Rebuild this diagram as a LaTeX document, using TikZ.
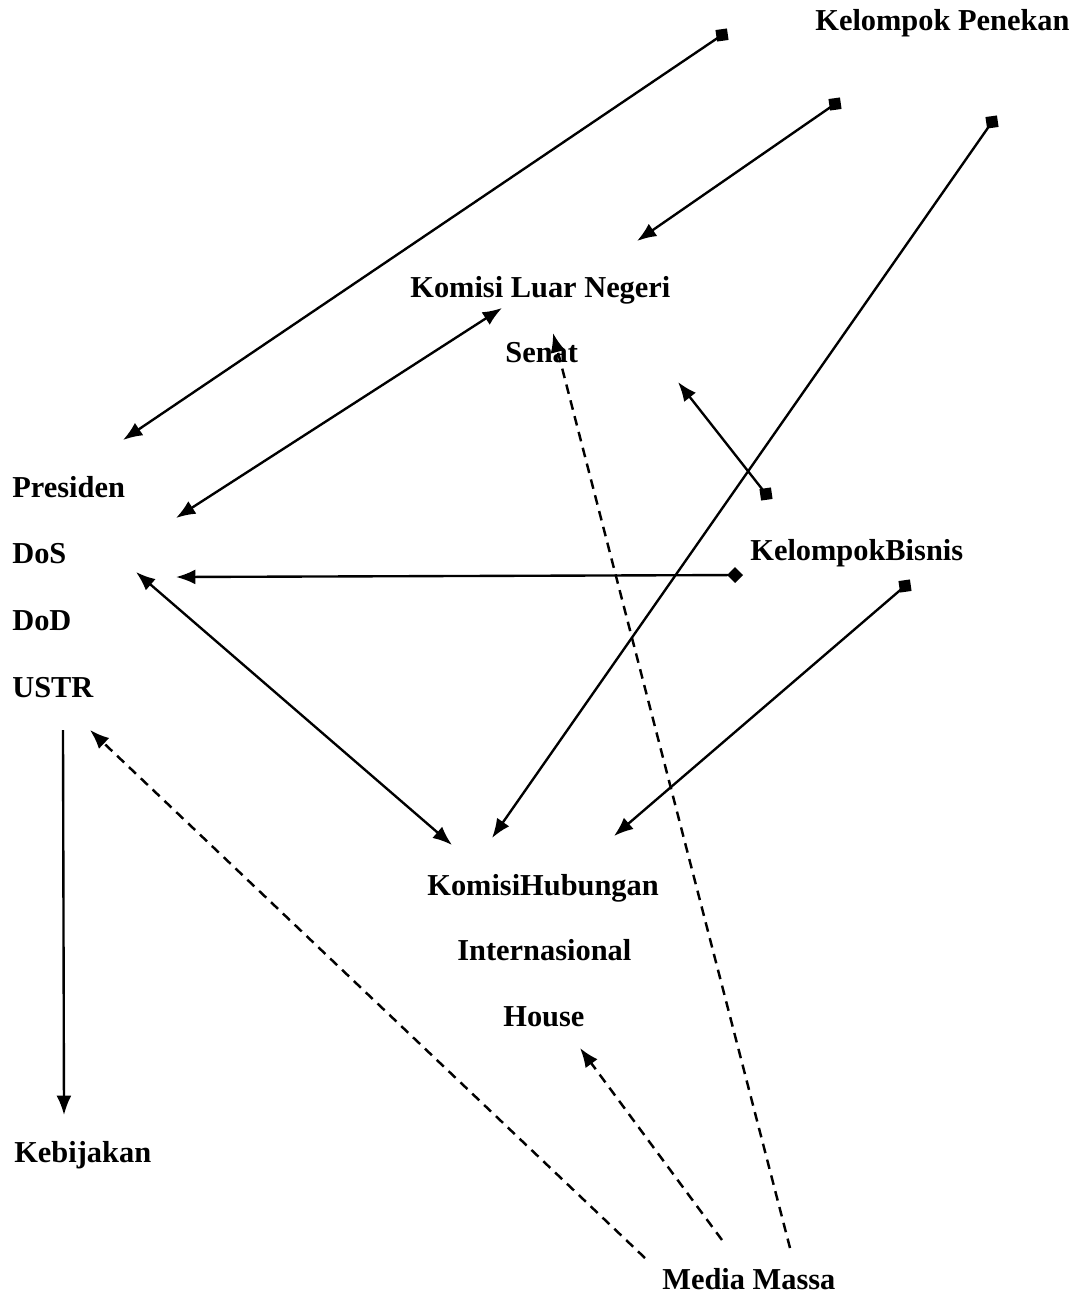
\documentclass[tikz,border=0pt]{standalone}
\usepackage{fontspec}
\setmainfont{Liberation Serif}
\usetikzlibrary{arrows.meta}
\begin{document}
\begin{tikzpicture}[x=0.02cm,y=-0.02cm,
  lbl/.style={anchor=base west,inner sep=0pt,font=\fontsize{17.3pt}{20pt}\selectfont\bfseries},
  con/.style={line width=1.35pt},
  dcon/.style={line width=1.4pt,dash pattern=on 5.5pt off 3.8pt},
  sqnode/.style={fill=black,draw=none,inner sep=0pt,minimum size=6.6pt,rotate=8},
  tip/.tip={Latex[length=11pt,width=8.5pt]},
  dm/.tip={Turned Square[length=9pt,width=9pt]}]
\useasboundingbox[fill=white] (0,0) rectangle (1079,1298);
% labels
\node[lbl] (kp) at (815,31) {Kelompok Penekan};
\node[lbl] (kln) at (410,297) {Komisi Luar Negeri};
\node[lbl] (senat) at (505,362) {Senat};
\node[lbl] (pres) at (12,497) {Presiden};
\node[lbl] (dos) at (12,563) {DoS};
\node[lbl] (dod) at (12,630) {DoD};
\node[lbl] (ustr) at (12,697) {USTR};
\node[lbl] (kb) at (750,560) {KelompokBisnis};
\node[lbl] (khi) at (427,895) {KomisiHubungan};
\node[lbl] (intl) at (457,960) {Internasional};
\node[lbl] (house) at (503,1026) {House};
\node[lbl] (kebij) at (14,1162) {Kebijakan};
\node[lbl] (mm) at (662,1289) {Media Massa};
% endpoints
\coordinate (a1) at (722,35);   \coordinate (b1) at (123,440);
\coordinate (a2) at (835,104);  \coordinate (b2) at (637,241);
\coordinate (a3) at (992,122);  \coordinate (b3) at (492,838);
\coordinate (a4) at (176,518);  \coordinate (b4) at (502,308);
\coordinate (a5) at (766,494);  \coordinate (b5) at (678,382);
\coordinate (a6) at (743,575);  \coordinate (b6) at (176,577);
\coordinate (a7) at (136,572);  \coordinate (b7) at (452,845);
\coordinate (a8) at (905,586);  \coordinate (b8) at (614,836);
\coordinate (a9) at (63,730);   \coordinate (b9) at (64,1115);
\coordinate (a10) at (645,1258); \coordinate (b10) at (90,730);
\coordinate (a11) at (722,1240); \coordinate (b11) at (580,1048);
\coordinate (a12) at (790,1248); \coordinate (b12) at (553,333);
% connectors
\draw[con,-{tip}] (a1) -- (b1);
\draw[con,-{tip}] (a2) -- (b2);
\draw[con,-{tip}] (a3) -- (b3);
\draw[con,{tip}-{tip}] (a4) -- (b4);
\draw[con,-{tip}] (a5) -- (b5);
\draw[con,{dm}-{tip}] (a6) -- (b6);
\draw[con,{tip}-{tip}] (a7) -- (b7);
\draw[con,-{tip}] (a8) -- (b8);
\draw[con,-{tip}] (a9) -- (b9);
\draw[dcon,-{tip}] (a10) -- (b10);
\draw[dcon,-{tip}] (a11) -- (b11);
\draw[dcon,-{tip}] (a12) -- (b12);
% square ends
\node[sqnode] (s1) at (a1) {};
\node[sqnode] (s2) at (a2) {};
\node[sqnode] (s3) at (a3) {};
\node[sqnode] (s5) at (a5) {};
\node[sqnode] (s8) at (a8) {};
\end{tikzpicture}
\end{document}
